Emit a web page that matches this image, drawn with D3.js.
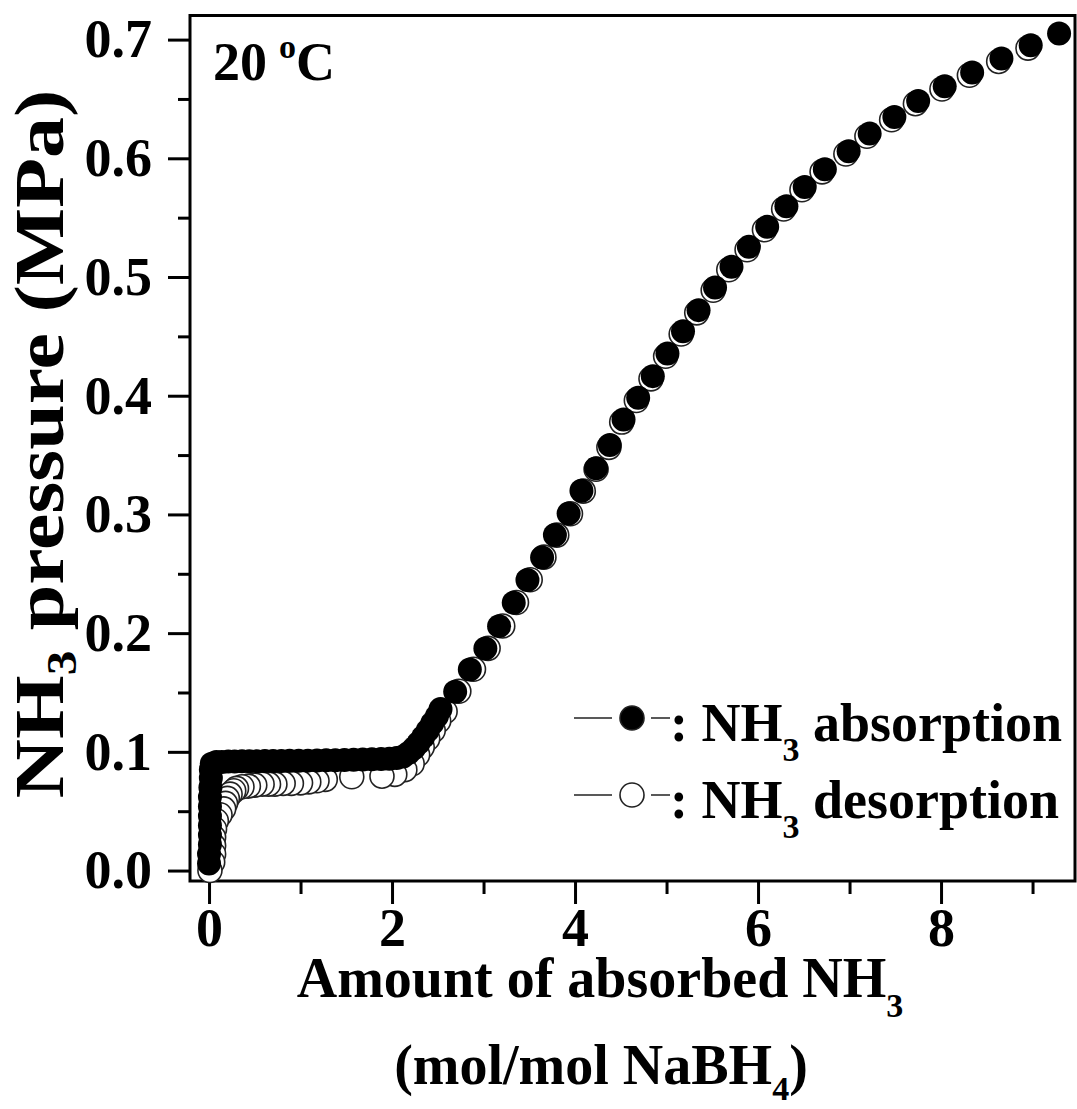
<!DOCTYPE html>
<meta charset="utf-8">
<head>
    <style>
        body { margin: 0; background: #fff; }
        text { font-family: "Liberation Serif", "Times New Roman", serif; font-weight: bold; fill: #000; }
    </style>
</head>
<body>
    <div id="chart"></div>

    <script src="https://cdnjs.cloudflare.com/ajax/libs/d3/7.8.5/d3.min.js"></script>
    <script>
        // NH3 absorption (filled) - amount (mol/mol NaBH4) and pressure (MPa)
        let absorptionX = [0.00, 0.00, 0.01, 0.01, 0.01, 0.01, 0.01, 0.01, 0.015, 0.02, 0.02, 0.03,
            0.08, 0.14, 0.21, 0.28, 0.36, 0.44, 0.52, 0.61, 0.70, 0.79, 0.88, 0.98, 1.08, 1.18, 1.28,
            1.38, 1.48, 1.58, 1.68, 1.78, 1.88, 1.97, 2.05,
            2.12, 2.18, 2.24, 2.29, 2.34, 2.39, 2.44, 2.49, 2.53,
            2.69, 2.85, 3.02, 3.17, 3.33, 3.48, 3.64, 3.78, 3.93, 4.07, 4.23, 4.38, 4.53, 4.69, 4.85,
            5.01, 5.18, 5.35, 5.53, 5.71, 5.90, 6.10, 6.31, 6.51, 6.73, 6.99, 7.22, 7.49, 7.75, 8.04,
            8.34, 8.66, 8.98, 9.29];
        let absorptionP = [0.006, 0.014, 0.022, 0.030, 0.038, 0.046, 0.054, 0.062, 0.070, 0.078, 0.085, 0.090,
            0.0915, 0.0915, 0.0918, 0.0918, 0.0920, 0.0920, 0.0921, 0.0922, 0.0922, 0.0923, 0.0924, 0.0925,
            0.0926, 0.0928, 0.0929, 0.0930, 0.0932, 0.0933, 0.0935, 0.0937, 0.0940, 0.0942, 0.0948,
            0.0960, 0.0990, 0.1030, 0.1075, 0.1125, 0.1180, 0.1240, 0.1300, 0.1360,
            0.1506, 0.1694, 0.1871, 0.2059, 0.2256, 0.2447, 0.2638, 0.2826, 0.3008, 0.3199, 0.3388, 0.3584,
            0.3800, 0.3982, 0.4165, 0.4356, 0.4544, 0.4721, 0.4912, 0.5086, 0.5254, 0.5423, 0.5597, 0.5758,
            0.5907, 0.6059, 0.6208, 0.6348, 0.6483, 0.6606, 0.6722, 0.6840, 0.6952, 0.7052];

        // NH3 desorption (open)
        let desorptionX = [8.95, 8.63, 8.31, 8.01, 7.72, 7.46, 7.19, 6.96, 6.70, 6.48, 6.28, 6.07, 5.88, 5.68,
            5.51, 5.33, 5.16, 4.99, 4.83, 4.67, 4.51, 4.37, 4.23, 4.09, 3.95, 3.80, 3.66, 3.51, 3.36, 3.21,
            3.05, 2.89, 2.73, 2.58, 2.51, 2.45, 2.39, 2.33, 2.28, 2.22, 2.14, 2.03, 1.89, 1.56, 1.27, 1.18,
            1.09, 1.00, 0.90, 0.81, 0.72, 0.65, 0.58, 0.50, 0.43, 0.36, 0.30, 0.27, 0.23, 0.20, 0.18, 0.16,
            0.12, 0.08, 0.06, 0.05, 0.05, 0.05, 0.04, 0.01];
        let desorptionP = [0.6928, 0.6816, 0.6700, 0.6584, 0.6460, 0.6325, 0.6186, 0.6036, 0.5886, 0.5735,
            0.5573, 0.5398, 0.5230, 0.5061, 0.4888, 0.4698, 0.4520, 0.4332, 0.4142, 0.3960, 0.3778, 0.3565,
            0.3380, 0.3196, 0.3006, 0.2826, 0.2640, 0.2450, 0.2258, 0.2060, 0.1872, 0.1696, 0.1510, 0.1340,
            0.1260, 0.1180, 0.1110, 0.1040, 0.0975, 0.0900, 0.0850, 0.0810, 0.0795, 0.0790, 0.0768, 0.0756,
            0.0747, 0.0739, 0.0734, 0.0734, 0.0728, 0.0728, 0.0728, 0.0720, 0.0711, 0.0706, 0.0692, 0.0672,
            0.0644, 0.0608, 0.0566, 0.0520, 0.0470, 0.0420, 0.0350, 0.0280, 0.0210, 0.0140, 0.0070, 0.0000];

        let xMajor = [0, 2, 4, 6, 8];
        let xMinor = [1, 3, 5, 7, 9];
        let yMajor = [0.0, 0.1, 0.2, 0.3, 0.4, 0.5, 0.6, 0.7];
        let yMinor = [0.05, 0.15, 0.25, 0.35, 0.45, 0.55, 0.65];

        let legendLabels = ['absorption', 'desorption'];

        // chart setting
        let svgWidth = 1077, svgHeight = 1109;
        let plot = {left: 190, right: 1075, top: 15.5, bottom: 881};
        let r = 12;

        let svg = d3.select('#chart')
                    .append('svg')
                    .attr('width', svgWidth)
                    .attr('height', svgHeight);

        let x = d3.scaleLinear().domain([-0.208, 9.464]).range([plot.left, plot.right]);
        let y = d3.scaleLinear().domain([-0.0088, 0.7203]).range([plot.bottom, plot.top]);

        // axes
        function styleAxis(g){
            g.select('.domain').remove();
            g.selectAll('line').attr('stroke', '#000').attr('stroke-width', 3);
            g.selectAll('text').attr('font-size', 54).attr('font-family', '"Liberation Serif", serif')
                .attr('font-weight', 'bold');
        }

        svg.append('g')
            .attr('transform', `translate(${plot.left}, 0)`)
            .call(d3.axisLeft(y).tickValues(yMajor).tickSize(22).tickPadding(16).tickFormat(d3.format('.1f')))
            .call(styleAxis);
        svg.append('g')
            .attr('transform', `translate(${plot.left}, 0)`)
            .call(d3.axisLeft(y).tickValues(yMinor).tickSize(12).tickFormat(''))
            .call(styleAxis);

        svg.append('g')
            .attr('transform', `translate(0, ${plot.bottom})`)
            .call(d3.axisBottom(x).tickValues(xMajor).tickSize(23).tickPadding(4).tickFormat(d3.format('d')))
            .call(styleAxis);
        svg.append('g')
            .attr('transform', `translate(0, ${plot.bottom})`)
            .call(d3.axisBottom(x).tickValues(xMinor).tickSize(13).tickFormat(''))
            .call(styleAxis);

        // frame
        svg.append('rect')
            .attr('x', plot.left).attr('y', plot.top)
            .attr('width', plot.right - plot.left).attr('height', plot.bottom - plot.top)
            .attr('fill', 'none').attr('stroke', '#000').attr('stroke-width', 3);

        // points - desorption below, absorption on top
        let desData = desorptionX.map((d, i) => ({x: d, p: desorptionP[i]}));
        let absData = absorptionX.map((d, i) => ({x: d, p: absorptionP[i]}));

        svg.append('g').selectAll('circle')
            .data(desData).enter()
            .append('circle')
            .attr('cx', d => x(d.x)).attr('cy', d => y(d.p)).attr('r', r)
            .attr('fill', '#fff').attr('stroke', '#222').attr('stroke-width', 1.6);

        svg.append('g').selectAll('circle')
            .data(absData).enter()
            .append('circle')
            .attr('cx', d => x(d.x)).attr('cy', d => y(d.p)).attr('r', r)
            .attr('fill', '#000');

        // 20 oC label
        let temp = svg.append('text').attr('x', 213).attr('y', 80).attr('font-size', 54);
        temp.append('tspan').text('20');
        temp.append('tspan').attr('font-size', 34).attr('dx', 12).attr('dy', -22).text('o');
        temp.append('tspan').attr('dy', 22).text('C');

        // legend
        let legend = svg.append('g');
        legendLabels.forEach((lab, i) => {
            let cy = 718 + i * 77;
            legend.append('line').attr('x1', 574).attr('x2', 612).attr('y1', cy).attr('y2', cy)
                .attr('stroke', '#222').attr('stroke-width', 1.5);
            legend.append('line').attr('x1', 651).attr('x2', 670).attr('y1', cy).attr('y2', cy)
                .attr('stroke', '#222').attr('stroke-width', 1.5);
            legend.append('circle').attr('cx', 632).attr('cy', cy).attr('r', r)
                .attr('fill', i == 0 ? '#000' : '#fff').attr('stroke', '#222').attr('stroke-width', 1.6);
            let t = legend.append('text').attr('x', 670).attr('y', cy + 23).attr('font-size', 54);
            t.append('tspan').text(': NH');
            t.append('tspan').attr('font-size', 34).attr('dy', 20).text('3');
            t.append('tspan').attr('dy', -20).text(' ' + lab);
        });

        // x label
        let xl1 = svg.append('text').attr('x', 600).attr('y', 997).attr('text-anchor', 'middle').attr('font-size', 56);
        xl1.append('tspan').text('Amount of absorbed NH');
        xl1.append('tspan').attr('font-size', 34).attr('dy', 20).text('3');

        let xl2 = svg.append('text').attr('x', 601).attr('y', 1084).attr('text-anchor', 'middle').attr('font-size', 56);
        xl2.append('tspan').text('(mol/mol NaBH');
        xl2.append('tspan').attr('font-size', 34).attr('dy', 16).text('4');
        xl2.append('tspan').attr('dy', -16).text(')');

        // y label (taller, narrow letters as in the figure)
        let yl = svg.append('text')
                    .attr('transform', 'translate(63, 444) rotate(-90) scale(1.17, 1)')
                    .attr('text-anchor', 'middle').attr('font-size', 70);
        yl.append('tspan').text('NH');
        yl.append('tspan').attr('font-size', 42).attr('dy', 13).text('3');
        yl.append('tspan').attr('dy', -13).text(' pressure (MPa)');
    </script>
</body>
